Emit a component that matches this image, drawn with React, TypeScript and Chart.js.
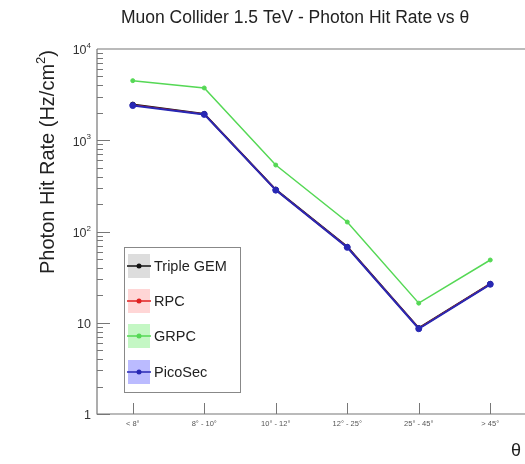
import React, { useEffect, useRef } from "react";
import { Chart, registerables } from "chart.js";
Chart.register(...registerables);

const categories = ["< 8°", "8° - 10°", "10° - 12°", "12° - 25°", "25° - 45°", "> 45°"];
const tripleGem = [2460, 1945, 288, 68, 8.75, 26.7];
const rpc = [2430, 1935, 286, 67.5, 8.7, 26.6];
const grpc = [4500, 3740, 535, 127, 16.4, 48.7];
const picoSec = [2400, 1920, 284, 67, 8.6, 26.4];
const yMajorTicks = [1, 10, 100, 1000, 10000];
const yMajorLabels: [string, string][] = [["1", ""], ["10", ""], ["10", "2"], ["10", "3"], ["10", "4"]];
const seriesNames = ["Triple GEM", "RPC", "GRPC", "PicoSec"];
const seriesLines = ["#111111", "#e02020", "#55d855", "#2828b4"];
const seriesFills = ["rgba(180,180,180,0.45)", "rgba(255,120,120,0.3)", "rgba(60,230,60,0.3)", "rgba(60,60,255,0.35)"];

const FONT = "'Liberation Sans', Arial, Helvetica, sans-serif";

const framePlugin = {
  id: "rootFrame",
  beforeDatasetsDraw(chart: any) {
    const ctx = chart.ctx as CanvasRenderingContext2D;
    const { left, right, top, bottom } = chart.chartArea;
    const xs = chart.scales.x;
    const ys = chart.scales.y;
    ctx.save();
    ctx.strokeStyle = "#777";
    ctx.lineWidth = 1.2;
    ctx.beginPath();
    ctx.moveTo(left, top);
    ctx.lineTo(right + 20, top);
    ctx.moveTo(left, top);
    ctx.lineTo(left, bottom);
    ctx.lineTo(right + 20, bottom);
    ctx.stroke();
    ctx.lineWidth = 1;
    ctx.beginPath();
    for (let d = 0; d < 4; d++) {
      for (let k = 1; k <= 9; k++) {
        const v = k * Math.pow(10, d);
        const py = Math.round(ys.getPixelForValue(v)) + 0.5;
        const len = k === 1 ? 13 : 6;
        ctx.moveTo(left, py);
        ctx.lineTo(left + len, py);
      }
    }
    categories.forEach((_, i) => {
      const px = Math.round(xs.getPixelForValue(i)) + 0.5;
      ctx.moveTo(px, bottom);
      ctx.lineTo(px, bottom - 11);
    });
    ctx.stroke();

    ctx.fillStyle = "#333";
    ctx.textBaseline = "middle";
    yMajorTicks.forEach((v, i) => {
      const [base, sup] = yMajorLabels[i];
      const py = ys.getPixelForValue(v);
      const xr = left - 6;
      ctx.font = `12.5px ${FONT}`;
      const bw = ctx.measureText(base).width;
      ctx.font = `8px ${FONT}`;
      const sw = sup ? ctx.measureText(sup).width : 0;
      ctx.font = `12.5px ${FONT}`;
      ctx.textAlign = "left";
      ctx.fillText(base, xr - bw - sw, py + 2);
      if (sup) {
        ctx.font = `8px ${FONT}`;
        ctx.fillText(sup, xr - sw, py - 3);
      }
    });

    ctx.font = `7.5px ${FONT}`;
    ctx.textAlign = "center";
    ctx.textBaseline = "middle";
    ctx.fillStyle = "#555";
    categories.forEach((c, i) => {
      ctx.fillText(c, xs.getPixelForValue(i), bottom + 10);
    });

    ctx.font = `18px ${FONT}`;
    ctx.fillStyle = "#222";
    ctx.textAlign = "center";
    ctx.fillText("θ", 516, 451);

    ctx.font = `17.5px ${FONT}`;
    ctx.fillText("Muon Collider 1.5 TeV - Photon Hit Rate vs θ", 295, 18);

    ctx.save();
    ctx.translate(47, 162);
    ctx.rotate(-Math.PI / 2);
    const main = "Photon Hit Rate (Hz/cm";
    ctx.font = `20px ${FONT}`;
    const mw = ctx.measureText(main).width;
    const cw = ctx.measureText(")").width;
    ctx.font = `13px ${FONT}`;
    const s2w = ctx.measureText("2").width;
    const total = mw + s2w + cw;
    const x0 = -total / 2;
    ctx.textAlign = "left";
    ctx.textBaseline = "alphabetic";
    ctx.font = `20px ${FONT}`;
    ctx.fillText(main, x0, 7);
    ctx.font = `13px ${FONT}`;
    ctx.fillText("2", x0 + mw, -2);
    ctx.font = `20px ${FONT}`;
    ctx.fillText(")", x0 + mw + s2w, 7);
    ctx.restore();
    ctx.restore();
  },
  afterDraw(chart: any) {
    const ctx = chart.ctx as CanvasRenderingContext2D;
    ctx.save();
    const bx = 124, by = 247, bw = 116, bh = 145;
    ctx.fillStyle = "#fff";
    ctx.fillRect(bx, by, bw, bh);
    ctx.strokeStyle = "#888";
    ctx.lineWidth = 1;
    ctx.strokeRect(bx + 0.5, by + 0.5, bw, bh);
    const rowsY = [266, 301, 336, 372];
    seriesNames.forEach((name, i) => {
      const cy = rowsY[i];
      ctx.fillStyle = seriesFills[i];
      ctx.fillRect(128, cy - 12, 22, 24);
      ctx.strokeStyle = seriesLines[i];
      ctx.lineWidth = 1.5;
      ctx.beginPath();
      ctx.moveTo(127, cy);
      ctx.lineTo(151, cy);
      ctx.stroke();
      ctx.fillStyle = seriesLines[i];
      ctx.beginPath();
      ctx.arc(139, cy, 2.5, 0, Math.PI * 2);
      ctx.fill();
      ctx.fillStyle = "#222";
      ctx.font = `14.5px ${FONT}`;
      ctx.textAlign = "left";
      ctx.textBaseline = "middle";
      ctx.fillText(name, 154, cy + 1);
    });
    ctx.restore();
  },
};

export default function App() {
  const ref = useRef<HTMLCanvasElement | null>(null);
  useEffect(() => {
    if (!ref.current) return;
    const mk = (label: string, data: number[], i: number, w: number, r: number, order: number) => ({
      label,
      data,
      order,
      borderColor: seriesLines[i],
      backgroundColor: seriesLines[i],
      borderWidth: w,
      pointRadius: r,
      pointBorderWidth: 1,
      pointBackgroundColor: seriesLines[i],
      pointBorderColor: seriesLines[i],
      fill: false,
      tension: 0,
    });
    const chart = new Chart(ref.current, {
      type: "line",
      data: {
        labels: categories,
        datasets: [
          mk("Triple GEM", tripleGem, 0, 2, 2.5, 3),
          mk("RPC", rpc, 1, 1.5, 2, 2),
          mk("GRPC", grpc, 2, 1.5, 2, 1),
          mk("PicoSec", picoSec, 3, 2, 3, 0),
        ],
      },
      options: {
        responsive: false,
        animation: false,
        devicePixelRatio: 1,
        layout: { padding: { left: 97, top: 49, right: 14, bottom: 50 } },
        plugins: { legend: { display: false }, tooltip: { enabled: false }, title: { display: false } },
        scales: {
          x: { type: "category", offset: true, display: false, grid: { display: false } },
          y: { type: "logarithmic", min: 1, max: 10000, display: false, grid: { display: false } },
        },
      },
      plugins: [framePlugin],
    } as any);
    return () => chart.destroy();
  }, []);
  return (
    <div style={{ position: "fixed", left: 0, top: 0, width: 525, height: 464, overflow: "hidden", background: "#fff" }}>
      <canvas ref={ref} width={540} height={464} style={{ display: "block" }} />
    </div>
  );
}
